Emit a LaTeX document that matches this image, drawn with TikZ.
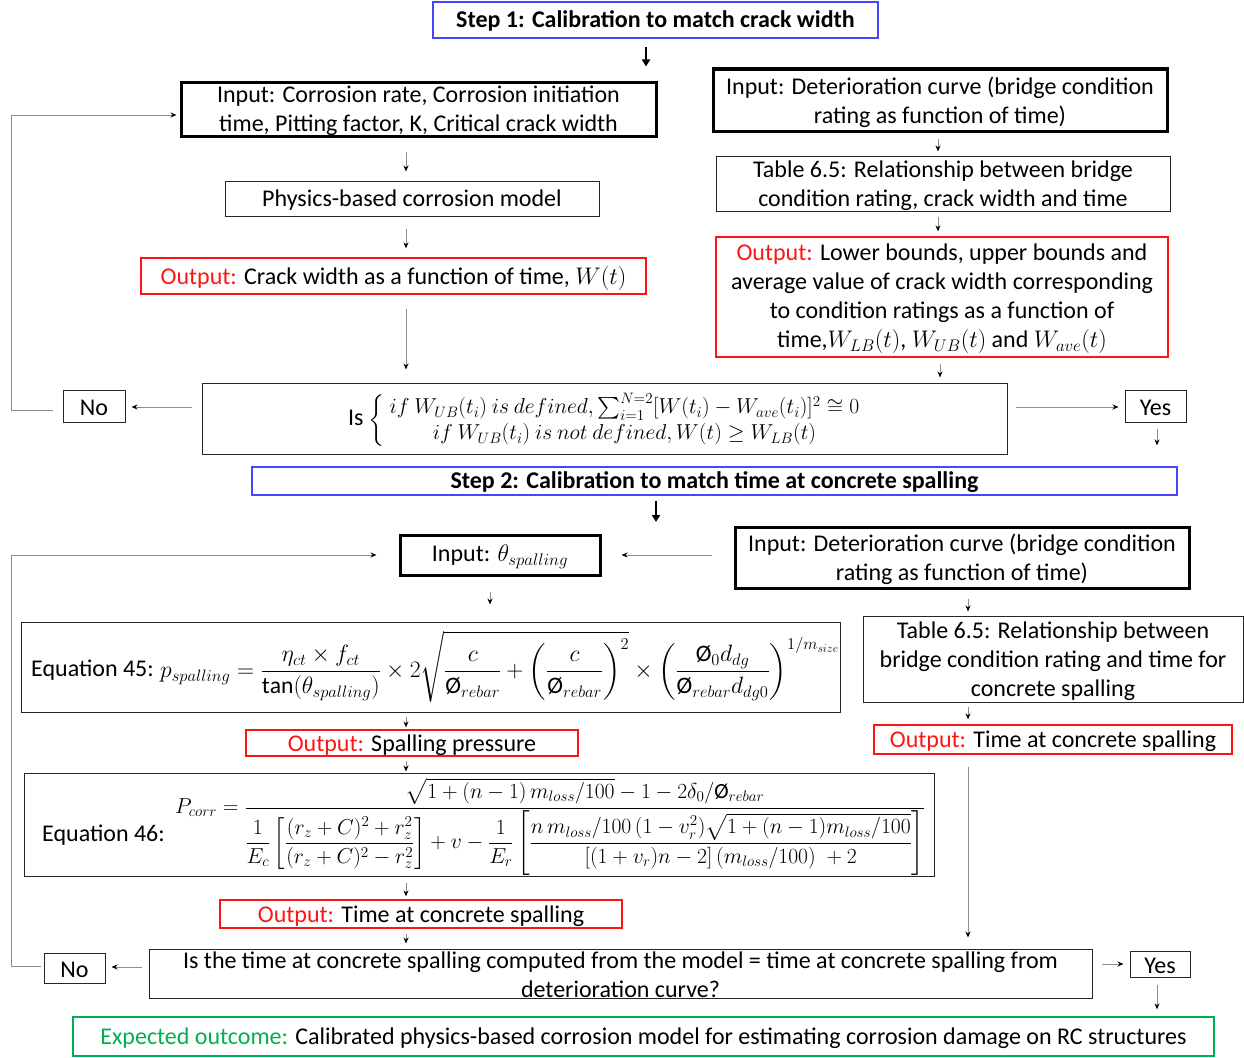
\RequirePackage{fix-cm}
\documentclass[tikz,border=0pt]{standalone}
\usepackage{amsmath,amssymb}
\usepackage{graphicx}
\usepackage{fontspec}
\setmainfont{Carlito}
\usetikzlibrary{arrows.meta,calc}
\definecolor{stepblue}{RGB}{70,70,255}
\definecolor{outred}{RGB}{255,20,20}
\definecolor{okgreen}{RGB}{0,176,80}
\newcommand{\dia}{\text{\O}}
\newcommand{\outl}{\textcolor{outred}{Output:}}
\tikzset{
  box/.style={draw=black!85, line width=1pt, inner sep=0pt},
  thickbox/.style={draw=black, line width=3pt, inner sep=0pt},
  redbox/.style={draw=outred, line width=1.3pt, inner sep=0pt},
  bluebox/.style={draw=stepblue, line width=1.3pt, inner sep=0pt},
  greenbox/.style={draw=okgreen, line width=1.3pt, inner sep=0pt},
  txt/.style={align=center, inner sep=0pt, yshift=-2pt, font=\fontsize{24}{29}\selectfont},
  boldtxt/.style={align=center, inner sep=0pt, yshift=-1pt, font=\fontsize{24}{29}\selectfont\bfseries},
  arr/.style={draw=black!45, line width=1pt, -{Stealth[length=6pt,width=5pt,black]}},
  thickarr/.style={draw=black, line width=2.2pt, -{Triangle[length=7pt,width=8pt,black]}},
  ln/.style={draw=black!45, line width=1pt}
}
\begin{document}
\begin{tikzpicture}[x=1pt,y=-1pt]
\useasboundingbox (0,0) rectangle (1244,1057);
% ---------- Step 1 ----------
\node[bluebox, minimum width=445pt, minimum height=36pt] (step1) at (655.5,20) {};
\node[boldtxt] at (step1) {Step 1: Calibration to match crack width};
\node[thickbox, minimum width=475pt, minimum height=54pt] (in1) at (418.5,109) {};
\node[txt] at (in1) {Input: Corrosion rate, Corrosion initiation\\time, Pitting factor, K, Critical crack width};
\node[box, minimum width=374pt, minimum height=35pt] (phys) at (412,198.5) {};
\node[txt] at (phys) {Physics-based corrosion model};
\node[redbox, minimum width=505pt, minimum height=36pt] (out1) at (393.5,276) {};
\node[txt] at (out1) {\outl{} Crack width as a function of time, $W(t)$};
\node[thickbox, minimum width=454pt, minimum height=62pt] (in2) at (940,100) {};
\node[txt] at (in2) {Input: Deterioration curve (bridge condition\\rating as function of time)};
\node[box, minimum width=454pt, minimum height=55pt] (tab1) at (943,183.5) {};
\node[txt] at (tab1) {Table 6.5: Relationship between bridge\\condition rating, crack width and time};
\node[redbox, minimum width=452pt, minimum height=120pt] (out2) at (942,297) {};
\node[txt] at (out2) {\outl{} Lower bounds, upper bounds and\\average value of crack width corresponding\\to condition ratings as a function of\\time,$W_{LB}(t)$, $W_{UB}(t)$ and $W_{ave}(t)$};
\node[box, minimum width=805pt, minimum height=71pt] (dec1) at (604.5,418.5) {};
\node[txt] at (606.5,418.5) {Is \scalebox{0.9}{$\left\{\begin{array}{c}
 if\ W_{UB}(t_i)\ is\ defined, \sum_{i=1}^{N=2}[W(t_i)-W_{ave}(t_i)]^2\cong 0\\
 if\ W_{UB}(t_i)\ is\ not\ defined, W(t)\geq W_{LB}(t)
 \end{array}\right.$}};
\node[box, minimum width=62pt, minimum height=32pt] (no1) at (94,406) {};
\node[txt] at (no1) {No};
\node[box, minimum width=61pt, minimum height=32pt] (yes1) at (1155.5,406) {};
\node[txt] at (yes1) {Yes};
% ---------- Step 2 ----------
\node[bluebox, minimum width=925pt, minimum height=28pt] (step2) at (714.5,481) {};
\node[boldtxt] at (step2) {Step 2: Calibration to match time at concrete spalling};
\node[thickbox, minimum width=200pt, minimum height=40pt] (inth) at (500,555) {};
\node[txt] at (inth) {Input: $\theta_{spalling}$};
\node[thickbox, minimum width=454pt, minimum height=61pt] (in3) at (962,557.5) {};
\node[txt] at (in3) {Input: Deterioration curve (bridge condition\\rating as function of time)};
\node[box, minimum width=819pt, minimum height=90pt] (eq45) at (430.5,667) {};
\node[txt, anchor=west] (eq45l) at (31,668) {Equation 45:};
\node[txt, anchor=west] (eq45m) at (160,665) {\scalebox{0.985}{$\displaystyle p_{spalling}=\frac{\eta_{ct}\times f_{ct}}{\tan(\theta_{spalling})}\times 2\sqrt{\frac{c}{\dia_{rebar}}+\left(\frac{c}{\dia_{rebar}}\right)^{2}}\times\left(\frac{\dia_{0}d_{dg}}{\dia_{rebar}d_{dg0}}\right)^{1/m_{size}}$}};
\node[box, minimum width=380pt, minimum height=86pt] (tab2) at (1053,659) {};
\node[txt] at (tab2) {Table 6.5: Relationship between\\bridge condition rating and time for\\concrete spalling};
\node[redbox, minimum width=358pt, minimum height=29pt] (out3) at (1053,739.5) {};
\node[txt] at (out3) {\outl{} Time at concrete spalling};
\node[redbox, minimum width=332pt, minimum height=26pt] (out4) at (412,743) {};
\node[txt] at (out4) {\outl{} Spalling pressure};
\node[box, minimum width=910pt, minimum height=103pt] (eq46) at (479,824.5) {};
\node[txt, anchor=west] (eq46l) at (42,833) {Equation 46:};
\node[txt, anchor=west] (eq46m) at (175,825) {\scalebox{0.9}{$\displaystyle P_{corr}=\frac{\sqrt{1+(n-1)\,m_{loss}/100}-1-2\delta_0/\dia_{rebar}}{\dfrac{1}{E_c}\left[\dfrac{(r_z+C)^2+r_z^2}{(r_z+C)^2-r_z^2}\right]+v-\dfrac{1}{E_r}\left[\dfrac{n\,m_{loss}/100\,(1-v_r^2)\sqrt{1+(n-1)m_{loss}/100}}{[(1+v_r)n-2]\,(m_{loss}/100)\;+2}\right]}$}};
\node[redbox, minimum width=402pt, minimum height=28pt] (out5) at (421,914) {};
\node[txt] at (out5) {\outl{} Time at concrete spalling};
\node[box, minimum width=943pt, minimum height=49pt] (dec2) at (620.5,973.5) {};
\node[txt] at (620.5,973) {Is the time at concrete spalling computed from the model = time at concrete spalling from\\deterioration curve?};
\node[box, minimum width=61pt, minimum height=30pt] (no2) at (74.5,968) {};
\node[txt] at (no2) {No};
\node[box, minimum width=60pt, minimum height=26pt] (yes2) at (1160,964) {};
\node[txt] at (yes2) {Yes};
\node[greenbox, minimum width=1141pt, minimum height=39pt] (final) at (643.5,1036.5) {};
\node[txt] at (final) {\textcolor{okgreen}{Expected outcome:} Calibrated physics-based corrosion model for estimating corrosion damage on RC structures};
% ---------- coordinates ----------
\coordinate (xa) at (406,0);
\coordinate (xb) at (646,0);
\coordinate (xr) at (938,0);
\coordinate (xr2) at (940,0);
\coordinate (xth) at (490,0);
\coordinate (xs) at (968,0);
\coordinate (xy) at (1157,0);
\coordinate (L) at (11,0);
\coordinate (s2end) at (656,522);
% ---------- connectors ----------
\draw[thickarr, shorten <=8pt, shorten >=14pt] (step1.south -| xb) -- (in1.north -| xb);
\draw[arr, shorten <=14pt, shorten >=9pt] (in1.south -| xa) -- (phys.north -| xa);
\draw[arr, shorten <=12pt, shorten >=9pt] (phys.south -| xa) -- (out1.north -| xa);
\draw[arr, shorten <=14pt, shorten >=13pt] (out1.south -| xa) -- (dec1.north -| xa);
\draw[arr, shorten <=6pt, shorten >=4pt] (in2.south -| xr) -- (tab1.north -| xr);
\draw[arr, shorten <=5pt, shorten >=5pt] (tab1.south -| xr) -- (out2.north -| xr);
\draw[arr, shorten <=6pt, shorten >=5pt] (out2.south -| xr2) -- (dec1.north -| xr2);
\draw[arr, shorten <=10pt, shorten >=6pt] ([yshift=-1pt]dec1.west |- no1.east) -- ([yshift=-1pt]no1.east);
\draw[arr, shorten <=8pt, shorten >=6pt] ([yshift=-1pt]dec1.east |- yes1.west) -- ([yshift=-1pt]yes1.west);
\draw[ln] ([xshift=-10pt,yshift=-4pt]no1.west) -- ([yshift=-4pt]no1.west -| L) -- ([yshift=-6pt]in1.west -| L);
\draw[arr, shorten >=3pt] ([yshift=-6pt]in1.west -| L) -- ([yshift=-6pt]in1.west);
\draw[arr, shorten <=6pt, shorten >=21pt] (yes1.south -| xy) -- (step2.north -| xy);
\draw[thickarr] ([yshift=-5pt]step2.south -| s2end) -- (s2end);
\draw[arr, shorten <=22pt, shorten >=20pt] (in3.west |- inth.east) -- (inth.east);
\draw[ln] ([xshift=-3pt,yshift=2pt]no2.west) -- ([yshift=2pt]no2.west -| L) -- (inth.west -| L);
\draw[arr, shorten >=22pt] (inth.west -| L) -- (inth.west);
\draw[arr, shorten <=15pt, shorten >=17pt] (inth.south -| xth) -- (eq45.north -| xth);
\draw[arr, shorten <=9pt, shorten >=4pt] (in3.south -| xs) -- (tab2.north -| xs);
\draw[arr, shorten <=4pt, shorten >=5pt] (tab2.south -| xs) -- (out3.north -| xs);
\draw[arr, shorten <=12pt, shorten >=11pt] (out3.south -| xs) -- (dec2.north -| xs);
\draw[arr, shorten <=4pt, shorten >=2pt] (eq45.south -| xa) -- (out4.north -| xa);
\draw[arr, shorten <=4pt, shorten >=1pt] (out4.south -| xa) -- (eq46.north -| xa);
\draw[arr, shorten <=6pt, shorten >=3pt] (eq46.south -| xa) -- (out5.north -| xa);
\draw[arr, shorten <=5pt, shorten >=5pt] (out5.south -| xa) -- (dec2.north -| xa);
\draw[arr, shorten <=7pt, shorten >=6pt] ([yshift=1pt]dec2.west |- no2.east) -- ([yshift=1pt]no2.east);
\draw[arr, shorten <=9pt, shorten >=6pt] (dec2.east |- yes2.west) -- (yes2.west);
\draw[arr, shorten <=7pt, shorten >=7pt] (yes2.south -| xy) -- (final.north -| xy);
\end{tikzpicture}
\end{document}
